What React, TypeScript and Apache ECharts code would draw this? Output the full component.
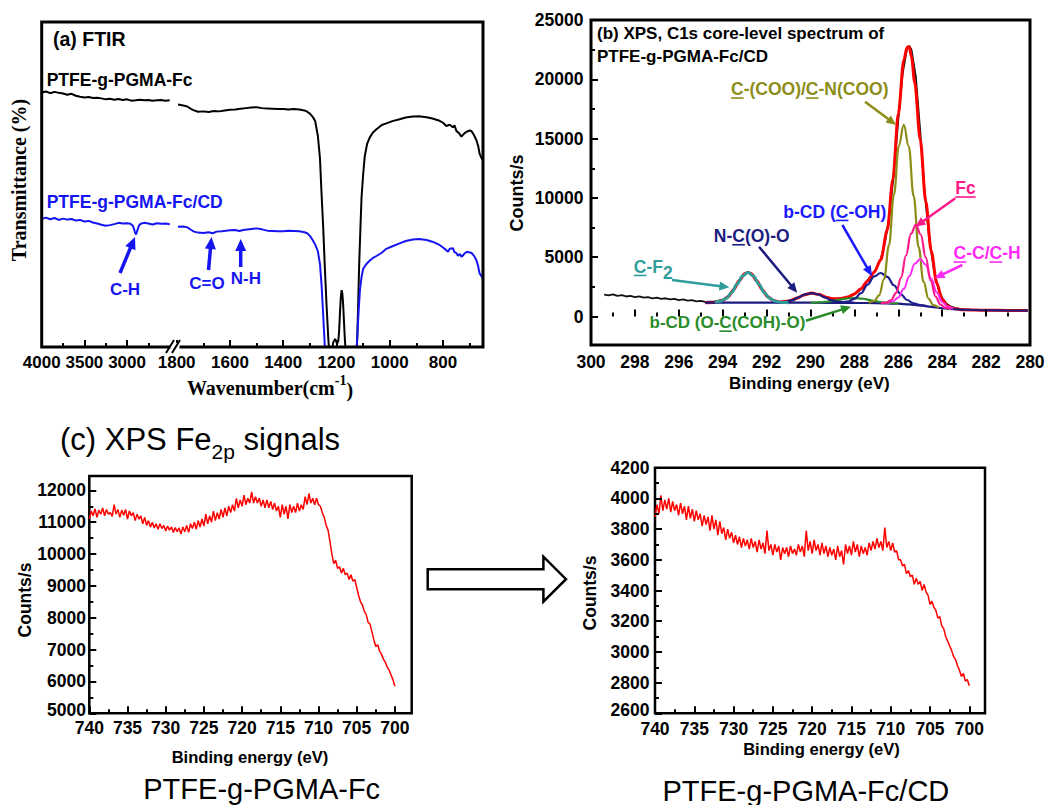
import React, { useEffect, useRef } from 'react';
import * as echarts from 'echarts';

const SANS = "'Liberation Sans', Arial, sans-serif";
const SERIF = "'Liberation Serif', 'Times New Roman', serif";

// ---------------- Panel (a) FTIR ----------------
const ftirLeftTicks = [4000, 3500, 3000];
const ftirLeftMinor = [3750, 3250, 2750];
const ftirRightTicks = [1800, 1600, 1400, 1200, 1000, 800];
const ftirRightMinor = [1700, 1500, 1300, 1100, 900, 700];

const fcLeft: [number, number][] = [
  [4000, 78.3], [3950, 78.6], [3900, 78.1], [3850, 78.5], [3800, 78.2], [3750, 78.0], [3700, 77.6], [3650, 77.9],
  [3600, 77.3], [3550, 77.0], [3500, 76.8], [3450, 76.9], [3400, 76.6], [3350, 76.7], [3300, 76.5], [3250, 76.2],
  [3200, 76.4], [3150, 76.1], [3100, 76.3], [3050, 76.0], [3000, 76.2], [2950, 75.8], [2900, 75.9], [2850, 76.1],
  [2800, 75.9], [2750, 76.0], [2700, 75.8], [2650, 75.9], [2600, 76.0], [2550, 75.8], [2500, 75.9],
];
const fcdLeft: [number, number][] = [
  [4000, 39.4], [3950, 39.8], [3900, 39.3], [3850, 39.7], [3800, 39.1], [3750, 39.5], [3700, 39.2], [3650, 39.4],
  [3600, 38.9], [3550, 39.1], [3500, 38.6], [3450, 38.8], [3400, 38.3], [3350, 38.0], [3300, 37.6], [3250, 37.3],
  [3200, 37.5], [3150, 37.8], [3100, 38.2], [3050, 38.0], [3000, 38.1], [2960, 37.9], [2930, 37.2], [2910, 35.6],
  [2895, 34.6], [2880, 35.8], [2860, 37.4], [2840, 37.9], [2800, 38.2], [2750, 38.0], [2700, 37.7], [2650, 38.1],
  [2600, 37.9], [2550, 38.0], [2500, 37.8],
];
const fcRight: [number, number][] = [
  [1795, 74.6], [1775, 74.3], [1760, 74.0], [1745, 73.2], [1735, 72.8], [1720, 72.4], [1700, 72.5], [1680, 72.3],
  [1660, 72.6], [1640, 72.5], [1620, 72.8], [1600, 73.0], [1580, 73.1], [1560, 73.3], [1540, 73.5], [1520, 73.7],
  [1500, 73.8], [1480, 73.5], [1460, 73.4], [1440, 73.3], [1420, 73.2], [1400, 73.2], [1380, 73.1], [1360, 73.2],
  [1340, 73.1], [1320, 72.8], [1310, 72.4], [1300, 71.8], [1290, 70.9], [1280, 69.5], [1270, 65.0], [1262, 58.0],
  [1256, 47.0], [1250, 37.0], [1244, 25.0], [1238, 14.0], [1231, 3.0], [1225, -5], [1212, 1.5], [1205, 2.5],
  [1198, 1.0], [1193, 2.0], [1190, 5.0], [1187, 10.5], [1184, 15.0], [1181, 17.5], [1178, 16.5], [1175, 13.0],
  [1172, 8.0], [1169, 3.0], [1165, -2], [1160, -5], [1127, -5], [1122, 3], [1119, 12], [1115, 25], [1110, 37],
  [1106, 46], [1100, 53], [1094, 58.6], [1085, 62.5], [1075, 64.5], [1063, 66.0], [1050, 67.0], [1030, 68.3],
  [1013, 68.8], [990, 69.5], [963, 70.1], [940, 70.6], [913, 70.9], [890, 71.0], [862, 70.7], [840, 70.3],
  [813, 69.6], [800, 69.0], [788, 68.0], [775, 68.4], [763, 67.6], [757, 68.2], [750, 66.5], [740, 65.8],
  [731, 64.7], [725, 65.3], [719, 65.8], [710, 66.3], [700, 66.6], [694, 66.5], [685, 65.4], [675, 63.7],
  [668, 61.8], [663, 59.6], [656, 58.2], [650, 57.5],
];
const fcdRight: [number, number][] = [
  [1795, 37.0], [1775, 37.1], [1760, 36.8], [1745, 36.0], [1735, 35.5], [1720, 35.2], [1700, 35.1], [1680, 35.3],
  [1665, 35.0], [1650, 35.5], [1630, 35.6], [1600, 35.9], [1580, 36.0], [1565, 35.7], [1550, 36.0], [1520, 36.3],
  [1500, 36.5], [1480, 36.2], [1460, 35.8], [1440, 35.7], [1420, 35.6], [1400, 35.6], [1380, 35.8], [1360, 35.7],
  [1340, 35.6], [1320, 35.3], [1310, 35.0], [1300, 34.2], [1290, 33.0], [1280, 31.5], [1270, 29.5], [1262, 25.5],
  [1256, 19.0], [1250, 10.0], [1245, 2.0], [1240, -5], [1127, -5], [1122, 3], [1117, 11], [1112, 17.5],
  [1106, 21.5], [1100, 24.0], [1090, 25.3], [1075, 26.6], [1063, 27.4], [1050, 28.0], [1030, 29.0], [1013, 30.2],
  [990, 31.0], [963, 31.9], [940, 32.6], [913, 33.1], [890, 33.2], [862, 32.9], [840, 32.4], [813, 31.4],
  [800, 30.6], [788, 29.8], [781, 29.3], [775, 30.2], [763, 30.4], [757, 29.2], [750, 28.9], [744, 28.1],
  [737, 28.6], [731, 27.8], [725, 28.2], [719, 28.8], [710, 29.3], [700, 29.1], [694, 29.0], [685, 28.2],
  [675, 26.8], [668, 24.8], [663, 22.7], [656, 21.8], [650, 21.1],
];

// ---------------- Panel (b) XPS C1s ----------------
const c1sXTicks = [300, 298, 296, 294, 292, 290, 288, 286, 284, 282, 280];
const c1sXMinor = [299, 297, 295, 293, 291, 289, 287, 285, 283, 281];
const c1sYTicks = [0, 5000, 10000, 15000, 20000, 25000];
const c1sYMinor = [2500, 7500, 12500, 17500, 22500];

const c1sRaw: [number, number][] = [
  [299.4, 1850], [299.2, 1780], [299.0, 1860], [298.8, 1740], [298.6, 1800], [298.4, 1690], [298.2, 1740], [298.0, 1640],
  [297.8, 1700], [297.6, 1590], [297.4, 1640], [297.2, 1540], [297.0, 1600], [296.8, 1490], [296.6, 1540], [296.4, 1440],
  [296.2, 1490], [296.0, 1390], [295.8, 1440], [295.6, 1340], [295.4, 1380], [295.2, 1280], [295.0, 1320], [294.8, 1230],
  [294.6, 1250], [294.4, 1260], [294.2, 1330], [294.0, 1420], [293.8, 1640], [293.6, 2080], [293.4, 2600], [293.2, 3200],
  [293.0, 3600], [292.85, 3740], [292.7, 3650], [292.5, 3200], [292.3, 2500], [292.1, 1980], [291.9, 1620], [291.7, 1380],
  [291.5, 1260], [291.3, 1200], [291.1, 1230], [290.9, 1290], [290.7, 1430], [290.5, 1640], [290.3, 1830], [290.1, 1920],
  [289.95, 1960], [289.8, 1900], [289.6, 1860], [289.4, 1720], [289.2, 1600], [289.0, 1520], [288.8, 1480], [288.6, 1500],
  [288.4, 1560], [288.2, 1680], [288.0, 1900], [287.8, 2150], [287.6, 2450], [287.4, 3050], [287.2, 3550], [287.0, 4050],
  [286.8, 4850], [286.6, 6300], [286.4, 8600], [286.2, 12100], [286.0, 16600], [285.8, 20500], [285.6, 22600], [285.5, 22800],
  [285.4, 22500], [285.2, 20200], [285.0, 15600], [284.8, 10500], [284.6, 6700], [284.4, 4200], [284.2, 2500], [284.0, 1550],
  [283.8, 1080], [283.6, 830], [283.4, 710], [283.2, 640], [283.0, 600], [282.7, 575], [282.4, 560],
];
const c1sFit: [number, number][] = [
  [294.8, 1171], [294.4, 1191], [294.0, 1351], [293.75, 1675], [293.5, 2266], [293.25, 3021], [293.0, 3608], [292.85, 3720],
  [292.7, 3608], [292.45, 3021], [292.2, 2266], [291.95, 1675], [291.7, 1356], [291.4, 1233], [291.0, 1303], [290.6, 1566],
  [290.3, 1822], [289.95, 1974], [289.6, 1848], [289.3, 1633], [289.0, 1492], [288.6, 1510], [288.3, 1652], [288.0, 1910],
  [287.7, 2351], [287.4, 2991], [287.1, 3730], [286.8, 4780], [286.5, 7306], [286.25, 11549], [286.0, 17100], [285.75, 21600],
  [285.6, 22700], [285.5, 22750], [285.4, 21900], [285.25, 19700], [285.0, 14900], [284.75, 9729], [284.5, 5534], [284.25, 2824],
  [284.0, 1432], [283.75, 871], [283.5, 669], [283.0, 570], [282.0, 530], [281.0, 510], [280.1, 500],
];
const c1sBaseline: [number, number][] = [
  [294.8, 1170], [292, 1170], [290, 1165], [288, 1150], [287, 1130], [286, 1080], [285.5, 1020], [285, 930],
  [284.5, 820], [284, 700], [283.5, 620], [283, 570], [282, 530], [281, 510], [280.1, 500],
];
const c1sCF2: [number, number][] = [
  [294.35, 1198], [294.1, 1282], [293.85, 1515], [293.6, 1998], [293.35, 2717], [293.1, 3420], [292.85, 3720], [292.6, 3420],
  [292.35, 2717], [292.1, 1998], [291.85, 1515], [291.6, 1282], [291.35, 1198], [291.0, 1172],
];
const c1sNCO: [number, number][] = [
  [291.55, 1182], [291.15, 1244], [290.85, 1380], [290.55, 1612], [290.25, 1860], [289.95, 1970], [289.65, 1860], [289.35, 1612],
  [289.05, 1380], [288.75, 1244], [288.35, 1182], [288.0, 1155],
];
const c1sOCO: [number, number][] = [
  [290.0, 1160], [289.6, 1190], [289.2, 1255], [288.8, 1375], [288.4, 1510], [288.0, 1570], [287.6, 1500], [287.2, 1350],
  [286.8, 1225], [286.4, 1140], [286.0, 1085],
];
const c1sCOH: [number, number][] = [
  [288.6, 1178], [288.3, 1260], [288.0, 1490], [287.7, 1968], [287.4, 2685], [287.1, 3378], [286.8, 3670], [286.5, 3350],
  [286.2, 2637], [285.9, 1903], [285.6, 1395], [285.3, 1102], [285.0, 958], [284.7, 880],
];
const c1sCOO: [number, number][] = [
  [287.35, 1162], [287.1, 1296], [286.875, 1783], [286.65, 3148], [286.425, 5998], [286.2, 10248], [285.975, 14406], [285.75, 16160],
  [285.525, 14356], [285.3, 10148], [285.075, 5848], [284.85, 2943], [284.625, 1513], [284.4, 958], [284.15, 747],
];
const c1sFc: [number, number][] = [
  [286.8, 1132], [286.55, 1175], [286.325, 1391], [286.1, 2000], [285.875, 3267], [285.65, 5144], [285.425, 6972], [285.2, 7730],
  [284.975, 6897], [284.75, 4984], [284.525, 3022], [284.3, 1683], [284.075, 996], [283.85, 735], [283.6, 642],
];
const c1sCC: [number, number][] = [
  [286.5, 1144], [286.25, 1265], [286.0, 1612], [285.75, 2336], [285.5, 3404], [285.25, 4443], [285.0, 4860], [284.75, 4358],
  [284.5, 3204], [284.25, 2036], [284.0, 1232], [283.75, 833], [283.5, 664],
];

// ---------------- Panel (c) XPS Fe2p ----------------
const feXTicks = [740, 735, 730, 725, 720, 715, 710, 705, 700];
const feXMinor = [737.5, 732.5, 727.5, 722.5, 717.5, 712.5, 707.5, 702.5];
const feFcYTicks = [5000, 6000, 7000, 8000, 9000, 10000, 11000, 12000];
const feFcYMinor = [5500, 6500, 7500, 8500, 9500, 10500, 11500];
const feCdYTicks = [2600, 2800, 3000, 3200, 3400, 3600, 3800, 4000, 4200];
const feCdYMinor = [2700, 2900, 3100, 3300, 3500, 3700, 3900, 4100];

const feFc: [number, number][] = [
  [740, 11100], [739.75, 11350], [739.5, 11200], [739.25, 11420], [739, 11150], [738.75, 11380], [738.5, 11250], [738.25, 11450],
  [738, 11200], [737.75, 11400], [737.5, 11250], [737.25, 11300], [737, 11180], [736.75, 11550], [736.5, 11250], [736.25, 11400],
  [736, 11150], [735.75, 11380], [735.5, 11220], [735.25, 11400], [735, 11100], [734.75, 11350], [734.5, 11200], [734.25, 11300],
  [734, 11050], [733.75, 11250], [733.5, 11100], [733.25, 11200], [733, 10950], [732.75, 11150], [732.5, 10900], [732.25, 11050],
  [732, 10850], [731.75, 11000], [731.5, 10820], [731.25, 10950], [731, 10780], [730.75, 10950], [730.5, 10800], [730.25, 10900],
  [730, 10720], [729.75, 10880], [729.5, 10750], [729.25, 10850], [729, 10680], [728.75, 10830], [728.5, 10700], [728.25, 10820],
  [728, 10630], [727.75, 10850], [727.5, 10700], [727.25, 10900], [727, 10680], [726.75, 10950], [726.5, 10800], [726.25, 11000],
  [726, 10780], [725.75, 11050], [725.5, 10850], [725.25, 11100], [725, 10880], [724.75, 11250], [724.5, 10950], [724.25, 11200],
  [724, 11000], [723.75, 11350], [723.5, 11050], [723.25, 11300], [723, 11100], [722.75, 11400], [722.5, 11150], [722.25, 11450],
  [722, 11200], [721.75, 11500], [721.5, 11300], [721.25, 11550], [721, 11350], [720.75, 11750], [720.5, 11450], [720.25, 11700],
  [720, 11500], [719.75, 11850], [719.5, 11550], [719.25, 11750], [719, 11600], [718.75, 11950], [718.5, 11600], [718.25, 11800],
  [718, 11600], [717.75, 11750], [717.5, 11500], [717.25, 11700], [717, 11450], [716.75, 11700], [716.5, 11450], [716.25, 11650],
  [716, 11400], [715.75, 11600], [715.5, 11350], [715.25, 11500], [715, 11150], [714.75, 11550], [714.5, 11250], [714.25, 11500],
  [714, 11100], [713.75, 11550], [713.5, 11300], [713.25, 11500], [713, 11300], [712.75, 11600], [712.5, 11350], [712.25, 11550],
  [712, 11400], [711.75, 11800], [711.5, 11550], [711.25, 11900], [711, 11600], [710.75, 11750], [710.5, 11550], [710.25, 11750],
  [710, 11550], [709.75, 11500], [709.5, 11300], [709.25, 11150], [709, 10900], [708.75, 10750], [708.5, 10400], [708.25, 10000],
  [708, 9700], [707.75, 9800], [707.5, 9550], [707.25, 9600], [707, 9400], [706.75, 9550], [706.5, 9350], [706.25, 9400],
  [706, 9200], [705.75, 9350], [705.5, 9150], [705.25, 9200], [705, 8950], [704.75, 8700], [704.5, 8500], [704.25, 8400],
  [704, 8200], [703.75, 8100], [703.5, 7850], [703.25, 7800], [703, 7550], [702.75, 7300], [702.5, 7100], [702.25, 7150],
  [702, 6950], [701.75, 6850], [701.5, 6700], [701.25, 6600], [701, 6450], [700.75, 6350], [700.5, 6200], [700.25, 6050],
  [700, 5850],
];
const feFcCd: [number, number][] = [
  [740, 3880], [739.75, 3960], [739.5, 3900], [739.25, 4020], [739, 3920], [738.75, 3990], [738.5, 3930], [738.25, 4000],
  [738, 3910], [737.75, 3980], [737.5, 3920], [737.25, 3960], [737, 3890], [736.75, 3970], [736.5, 3900], [736.25, 3950],
  [736, 3860], [735.75, 3950], [735.5, 3870], [735.25, 3930], [735, 3850], [734.75, 3920], [734.5, 3860], [734.25, 3900],
  [734, 3820], [733.75, 3890], [733.5, 3830], [733.25, 3880], [733, 3790], [732.75, 3890], [732.5, 3800], [732.25, 3860],
  [732, 3760], [731.75, 3850], [731.5, 3770], [731.25, 3810], [731, 3730], [730.75, 3800], [730.5, 3740], [730.25, 3780],
  [730, 3710], [729.75, 3760], [729.5, 3700], [729.25, 3750], [729, 3680], [728.75, 3740], [728.5, 3690], [728.25, 3730],
  [728, 3670], [727.75, 3740], [727.5, 3680], [727.25, 3720], [727, 3650], [726.75, 3730], [726.5, 3670], [726.25, 3710],
  [726, 3640], [725.75, 3790], [725.5, 3660], [725.25, 3700], [725, 3630], [724.75, 3700], [724.5, 3650], [724.25, 3690],
  [724, 3600], [723.75, 3680], [723.5, 3640], [723.25, 3680], [723, 3620], [722.75, 3690], [722.5, 3640], [722.25, 3670],
  [722, 3630], [721.75, 3700], [721.5, 3650], [721.25, 3690], [721, 3620], [720.75, 3790], [720.5, 3660], [720.25, 3720],
  [720, 3640], [719.75, 3730], [719.5, 3660], [719.25, 3700], [719, 3630], [718.75, 3710], [718.5, 3640], [718.25, 3690],
  [718, 3620], [717.75, 3680], [717.5, 3630], [717.25, 3670], [717, 3600], [716.75, 3690], [716.5, 3620], [716.25, 3660],
  [716, 3570], [715.75, 3700], [715.5, 3640], [715.25, 3690], [715, 3630], [714.75, 3720], [714.5, 3650], [714.25, 3700],
  [714, 3620], [713.75, 3690], [713.5, 3640], [713.25, 3680], [713, 3630], [712.75, 3710], [712.5, 3660], [712.25, 3720],
  [712, 3670], [711.75, 3740], [711.5, 3680], [711.25, 3720], [711, 3660], [710.75, 3810], [710.5, 3680], [710.25, 3720],
  [710, 3660], [709.75, 3710], [709.5, 3650], [709.25, 3660], [709, 3600], [708.75, 3600], [708.5, 3560], [708.25, 3570],
  [708, 3510], [707.75, 3530], [707.5, 3490], [707.25, 3500], [707, 3440], [706.75, 3480], [706.5, 3440], [706.25, 3460],
  [706, 3400], [705.75, 3440], [705.5, 3390], [705.25, 3370], [705, 3310], [704.75, 3330], [704.5, 3290], [704.25, 3270],
  [704, 3220], [703.75, 3230], [703.5, 3170], [703.25, 3150], [703, 3100], [702.75, 3070], [702.5, 3040], [702.25, 3010],
  [702, 2970], [701.75, 2950], [701.5, 2910], [701.25, 2880], [701, 2840], [700.75, 2860], [700.5, 2810], [700.25, 2820],
  [700, 2780],
];

// ---------------- helpers ----------------
let measureCtx: CanvasRenderingContext2D | null = null;
function tw(text: string, font: string): number {
  if (!measureCtx) measureCtx = document.createElement('canvas').getContext('2d');
  if (!measureCtx) return text.length * 9;
  measureCtx.font = font;
  return measureCtx.measureText(text).width;
}
const bold = (size: number, fam = SANS) => `bold ${size}px ${fam}`;
const reg = (size: number, fam = SANS) => `${size}px ${fam}`;

function txt(text: string, x: number, y: number, font: string, fill: string, align = 'left', rotation = 0): any {
  return {
    type: 'text', x, y, rotation, silent: true, z: 20,
    style: { text, x: 0, y: 0, font, fill, textAlign: align, textVerticalAlign: 'middle', align, verticalAlign: 'middle' },
  };
}
function ulabel(text: string, x: number, y: number, size: number, fill: string, under: [number, number][] = [], center = false): any[] {
  const font = bold(size);
  const w = tw(text, font);
  const left = center ? x - w / 2 : x;
  const els: any[] = [txt(text, left, y, font, fill)];
  under.forEach(([i, j]) => {
    const x0 = left + tw(text.slice(0, i), font);
    const x1 = left + tw(text.slice(0, j), font);
    const yy = y + size * 0.5;
    els.push({ type: 'line', silent: true, z: 20, shape: { x1: x0, y1: yy, x2: x1, y2: yy }, style: { stroke: fill, lineWidth: 1.6 } });
  });
  return els;
}
function arrow(x1: number, y1: number, x2: number, y2: number, color: string, lw: number, hl: number, hw: number): any[] {
  const dx = x2 - x1, dy = y2 - y1;
  const L = Math.hypot(dx, dy);
  const ux = dx / L, uy = dy / L;
  const bx = x2 - ux * hl, by = y2 - uy * hl;
  const px = -uy, py = ux;
  return [
    { type: 'line', silent: true, z: 19, shape: { x1, y1, x2: bx + ux, y2: by + uy }, style: { stroke: color, lineWidth: lw } },
    {
      type: 'polygon', silent: true, z: 19,
      shape: { points: [[x2, y2], [bx + (px * hw) / 2, by + (py * hw) / 2], [bx - (px * hw) / 2, by - (py * hw) / 2]] },
      style: { fill: color },
    },
  ];
}

const tickLine = { color: '#000', width: 2 };
function axisPair(dim: 'x' | 'y', gridIndex: number, min: number, max: number, majors: number[], minors: number[], inverse: boolean): any[] {
  const base = {
    type: 'value', gridIndex, min, max, inverse, position: dim === 'x' ? 'bottom' : 'left',
    axisLine: { show: false }, splitLine: { show: false }, axisLabel: { show: false }, z: 6,
  };
  return [
    { ...base, axisTick: { show: true, inside: true, length: 7, lineStyle: tickLine, customValues: majors } },
    { ...base, axisTick: { show: true, inside: true, length: 4, lineStyle: tickLine, customValues: minors } },
  ];
}

// tick-label placement: axis index, values, fixed pixel coordinate of the label row/column, font size
type LabelSpec = { dim: 'x' | 'y'; axisIndex: number; values: number[]; at: number; size: number; lowShift?: number };
const tickLabelSpecs: LabelSpec[] = [
  { dim: 'x', axisIndex: 0, values: ftirLeftTicks, at: 362, size: 17 },
  { dim: 'x', axisIndex: 2, values: ftirRightTicks, at: 362, size: 17 },
  { dim: 'x', axisIndex: 4, values: c1sXTicks, at: 362, size: 17.5 },
  { dim: 'x', axisIndex: 6, values: feXTicks, at: 727.5, size: 17.5 },
  { dim: 'x', axisIndex: 8, values: feXTicks, at: 728.5, size: 17.5 },
  { dim: 'y', axisIndex: 2, values: c1sYTicks, at: 583.4, size: 17.5 },
  { dim: 'y', axisIndex: 4, values: feFcYTicks, at: 86, size: 17.5, lowShift: -3.5 },
  { dim: 'y', axisIndex: 6, values: feCdYTicks, at: 649.5, size: 17.5, lowShift: -3 },
];

function line(data: [number, number][], xi: number, yi: number, color: string, width: number, smooth: any = false, z = 3): any {
  return {
    type: 'line', data, xAxisIndex: xi, yAxisIndex: yi, symbol: 'none', smooth, smoothMonotone: smooth ? 'x' : undefined,
    lineStyle: { color, width }, itemStyle: { color }, z, silent: true, clip: true,
  };
}

function buildOption(): { option: any; graphics: any[] } {
  const blue = '#1515f2';
  const cols = {
    olive: '#8c8c16', fc: '#ff1a8c', cc: '#ff2af5', coh: '#1e1e8c', cohText: '#1a1aff', navy: '#1c1c80',
    teal: '#2f9d99', green: '#2a8c2a',
  };

  const graphics: any[] = [];
  // ---- panel (a) frame + break ----
  graphics.push({ type: 'rect', silent: true, z: 10, shape: { x: 41.7, y: 22, width: 441.3, height: 325 }, style: { fill: 'none', stroke: '#000', lineWidth: 3 } });
  graphics.push({ type: 'rect', silent: true, z: 11, shape: { x: 170.5, y: 343, width: 9, height: 8 }, style: { fill: '#fff' } });
  graphics.push({ type: 'line', silent: true, z: 12, shape: { x1: 166, y1: 353, x2: 174, y2: 340 }, style: { stroke: '#000', lineWidth: 2 } });
  graphics.push({ type: 'line', silent: true, z: 12, shape: { x1: 172, y1: 353, x2: 180, y2: 340 }, style: { stroke: '#000', lineWidth: 2 } });

  graphics.push(txt('(a) FTIR', 53, 38.5, bold(19.5), '#000'));
  graphics.push(txt('PTFE-g-PGMA-Fc', 46.7, 80, bold(17.5), '#000'));
  graphics.push(txt('PTFE-g-PGMA-Fc/CD', 46.7, 202.3, bold(17.5), blue));
  graphics.push(...arrow(120, 273, 135, 237, blue, 3.5, 12, 11));
  graphics.push(...arrow(208.5, 270, 211.5, 237, blue, 3.5, 12, 11));
  graphics.push(...arrow(240.7, 267, 240.7, 239, blue, 3.5, 12, 11));
  graphics.push(...ulabel('C-H', 125, 289.3, 17, blue, [], true));
  graphics.push(...ulabel('C=O', 207, 283.3, 17, blue, [], true));
  graphics.push(...ulabel('N-H', 245.8, 278.3, 17, blue, [], true));
  graphics.push(txt('Transmittance (%)', 18.5, 180, bold(20, SERIF), '#000', 'center', Math.PI / 2));
  {
    const f1 = bold(20, SERIF), f2 = bold(14, SERIF);
    const w1 = tw('Wavenumber(cm', f1), w2 = tw('-1', f2), w3 = tw(')', f1);
    const left = 270 - (w1 + w2 + w3) / 2;
    graphics.push(txt('Wavenumber(cm', left, 388.3, f1, '#000'));
    graphics.push(txt('-1', left + w1, 380.5, f2, '#000'));
    graphics.push(txt(')', left + w1 + w2, 389.5, f1, '#000'));
  }

  // ---- panel (b) texts ----
  graphics.push(txt('(b) XPS, C1s core-level spectrum of', 597, 33.3, bold(17), '#000'));
  graphics.push(txt('PTFE-g-PGMA-Fc/CD', 597, 56.7, bold(17), '#000'));
  graphics.push(...ulabel('C-(COO)/C-N(COO)', 731, 89.3, 17.5, cols.olive, [[0, 1], [8, 9]]));
  graphics.push(...arrow(865, 101.7, 896.2, 125, cols.olive, 2.5, 10, 9));
  graphics.push(...ulabel('Fc', 955.3, 188.3, 17.5, cols.fc, [[0, 2]]));
  graphics.push(...arrow(955.3, 198.3, 915.4, 226.7, cols.fc, 2.5, 10, 9));
  graphics.push(...ulabel('C-C/C-H', 953.6, 253.3, 17.5, cols.cc, [[0, 1], [4, 5]]));
  graphics.push(...arrow(962.3, 265, 934.5, 278.3, cols.cc, 2.5, 10, 9));
  graphics.push(...ulabel('b-CD (C-OH)', 783.3, 211.7, 17.5, cols.cohText, [[6, 7]]));
  graphics.push(...arrow(842.4, 225, 871.9, 276, cols.cohText, 2.5, 10, 9));
  graphics.push(...ulabel('N-C(O)-O', 713.8, 236, 17.5, cols.navy, [[2, 3]]));
  graphics.push(...arrow(759, 246.7, 797.2, 292.7, cols.navy, 2.5, 10, 9));
  {
    const f = bold(17.5);
    graphics.push(...ulabel('C-F', 633.8, 266.7, 17.5, cols.teal, [[0, 1]]));
    graphics.push(txt('2', 633.8 + tw('C-F', f), 272.5, f, cols.teal));
  }
  graphics.push(...arrow(672, 280, 729.4, 287.3, cols.teal, 2.5, 10, 9));
  graphics.push(...ulabel('b-CD (O-C(COH)-O)', 649.5, 322.7, 17, cols.green, [[8, 9]]));
  graphics.push(...arrow(805.9, 320.7, 851, 306.7, cols.green, 2.5, 10, 9));
  graphics.push(txt('Counts/s', 517.4, 193, bold(18), '#000', 'center', Math.PI / 2));
  graphics.push(txt('Binding energy (eV)', 809.4, 383.3, bold(17), '#000', 'center'));

  // ---- panel (c) texts ----
  {
    const f1 = reg(31), f2 = reg(21);
    const w1 = tw('(c) XPS Fe', f1), w2 = tw('2p', f2);
    graphics.push(txt('(c) XPS Fe', 60, 439, f1, '#000'));
    graphics.push(txt('2p', 60 + w1, 451.5, f2, '#000'));
    graphics.push(txt(' signals', 60 + w1 + w2, 439, f1, '#000'));
  }
  graphics.push(txt('Counts/s', 25, 600, bold(17.5), '#000', 'center', Math.PI / 2));
  graphics.push(txt('Binding energy (eV)', 250, 757.5, bold(16.6), '#000', 'center'));
  graphics.push(txt('PTFE-g-PGMA-Fc', 261.7, 788.5, reg(29), '#000', 'center'));
  graphics.push(txt('Counts/s', 590.4, 593, bold(17.5), '#000', 'center', Math.PI / 2));
  graphics.push(txt('Binding energy (eV)', 821.5, 749, bold(16.6), '#000', 'center'));
  graphics.push(txt('PTFE-g-PGMA-Fc/CD', 805.9, 790.5, reg(29), '#000', 'center'));
  graphics.push({
    type: 'polygon', silent: true, z: 10,
    shape: { points: [[427.7, 569.3], [543.4, 569.3], [543.4, 556.7], [566, 579.2], [543.4, 601.7], [543.4, 589.3], [427.7, 589.3]] },
    style: { fill: '#fff', stroke: '#000', lineWidth: 2.5 },
  });

  const xAxes = [
    ...axisPair('x', 0, 2450, 4000, ftirLeftTicks, ftirLeftMinor, true),
    ...axisPair('x', 1, 650, 1810, ftirRightTicks, ftirRightMinor, true),
    ...axisPair('x', 2, 280, 300, c1sXTicks, c1sXMinor, true),
    ...axisPair('x', 3, 697.8, 740, feXTicks, feXMinor, true),
    ...axisPair('x', 4, 698, 740, feXTicks, feXMinor, true),
  ];
  const yAxes = [
    { type: 'value', gridIndex: 0, min: 0, max: 100, show: false },
    { type: 'value', gridIndex: 1, min: 0, max: 100, show: false },
    ...axisPair('y', 2, -2400, 25000, c1sYTicks, c1sYMinor, false),
    ...axisPair('y', 3, 5000, 12450, feFcYTicks, feFcYMinor, false),
    ...axisPair('y', 4, 2600, 4200, feCdYTicks, feCdYMinor, false),
  ];

  const series = [
    line(fcLeft, 0, 0, '#000', 2),
    line(fcdLeft, 0, 0, blue, 2),
    line(fcRight, 2, 1, '#000', 2),
    line(fcdRight, 2, 1, blue, 2),

    line(c1sRaw, 4, 2, '#111', 1.8, false, 2),
    line(c1sFit, 4, 2, '#ff0000', 3, 0.3, 3),
    line(c1sBaseline, 4, 2, cols.navy, 2.2, 0.3, 4),
    line(c1sOCO, 4, 2, cols.green, 2.2, 0.4, 5),
    line(c1sNCO, 4, 2, cols.navy, 2.2, 0.4, 5),
    line(c1sCOH, 4, 2, cols.coh, 2.2, 0.4, 5),
    line(c1sCF2, 4, 2, cols.teal, 3, 0.4, 5),
    line(c1sCOO, 4, 2, cols.olive, 2.2, 0.4, 5),
    line(c1sCC, 4, 2, cols.cc, 2, 0.4, 5),
    line(c1sFc, 4, 2, cols.fc, 2.2, 0.4, 5),

    line(feFc, 6, 4, '#ff0000', 1.5),
    line(feFcCd, 8, 6, '#ff0000', 1.5),
  ];

  const option = {
    animation: false,
    backgroundColor: '#fff',
    textStyle: { fontFamily: SANS },
    grid: [
      { left: 41.7, top: 22, width: 132.3, height: 325 },
      { left: 174, top: 22, width: 309, height: 325 },
      { left: 591, top: 20, width: 439, height: 325, show: true, borderColor: '#000', borderWidth: 3, backgroundColor: 'transparent' },
      { left: 89.3, top: 476, width: 322.4, height: 237.3, show: true, borderColor: '#000', borderWidth: 2.5, backgroundColor: 'transparent' },
      { left: 655, top: 467.7, width: 330, height: 245.6, show: true, borderColor: '#000', borderWidth: 2.5, backgroundColor: 'transparent' },
    ],
    xAxis: xAxes,
    yAxis: yAxes,
    series,
    graphic: { elements: graphics },
  };
  return { option, graphics };
}

export default function App() {
  const ref = useRef<HTMLDivElement>(null);
  useEffect(() => {
    if (!ref.current) return;
    const chart = echarts.init(ref.current, null, { renderer: 'svg' });
    const { option, graphics } = buildOption();
    chart.setOption(option);
    // tick labels, placed through the axes' own scales
    const labels: any[] = [];
    tickLabelSpecs.forEach((s) => {
      s.values.forEach((v, i) => {
        const finder = s.dim === 'x' ? { xAxisIndex: s.axisIndex } : { yAxisIndex: s.axisIndex };
        const p = chart.convertToPixel(finder as any, v) as any as number;
        if (typeof p !== 'number' || isNaN(p)) return;
        if (s.dim === 'x') labels.push(txt(String(v), p, s.at, bold(s.size), '#000', 'center'));
        else labels.push(txt(String(v), s.at, p + (i === 0 && s.lowShift ? s.lowShift : 0), bold(s.size), '#000', 'right'));
      });
    });
    chart.setOption({ graphic: { elements: [...graphics, ...labels] } });
    return () => chart.dispose();
  }, []);
  return <div ref={ref} style={{ position: 'fixed', left: 0, top: 0, width: 1045, height: 805, background: '#fff' }} />;
}
